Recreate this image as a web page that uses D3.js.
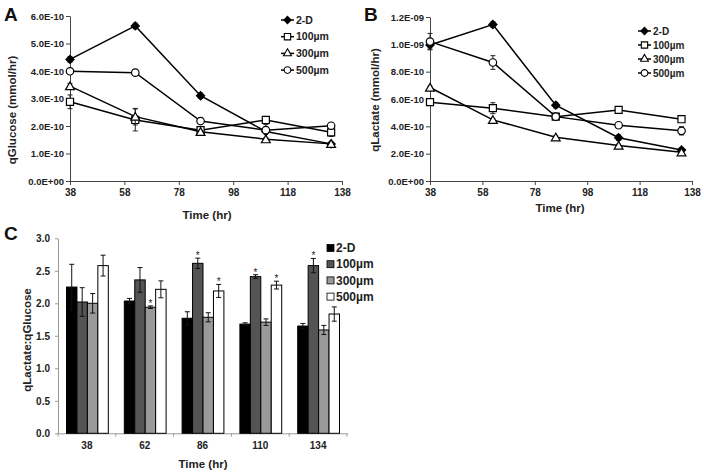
<!DOCTYPE html>
<html>
<head>
<meta charset="utf-8">
<script src="https://cdn.jsdelivr.net/npm/d3@7"></script>
<style>
body { margin: 0; background: #fff; }
svg, svg text { font-family: Arial, "Liberation Sans", sans-serif; }
.tick text { font-weight: bold; fill: #222; }
</style>
</head>
<body>
<svg id="chart" width="704" height="474"></svg>
<script>
// time points (hr) and series names
var hours = [38, 62, 86, 110, 134];
var seriesNames = ["2-D", "100µm", "300µm", "500µm"];
var xTicks = [38, 58, 78, 98, 118, 138];

// panel A: qGlucose (mmol/hr)
var glucose2D  = [4.42e-10, 5.64e-10, 3.10e-10, 1.80e-10, 1.35e-10];
var glucose100 = [2.88e-10, 2.22e-10, 1.85e-10, 2.22e-10, 1.77e-10];
var glucose300 = [3.45e-10, 2.34e-10, 1.79e-10, 1.52e-10, 1.35e-10];
var glucose500 = [3.99e-10, 3.94e-10, 2.18e-10, 1.85e-10, 2.01e-10];
var glucoseErr2D  = [0.1e-10, 0.1e-10, 0.1e-10, 0.25e-10, 0.05e-10];
var glucoseErr100 = [0.25e-10, 0.4e-10, 0.1e-10, 0.1e-10, 0.15e-10];
var glucoseErr300 = [0.1e-10, 0.3e-10, 0.05e-10, 0.05e-10, 0.05e-10];
var glucoseErr500 = [0.05e-10, 0.05e-10, 0.1e-10, 0.1e-10, 0.1e-10];

// panel B: qLactate (mmol/hr)
var lactate2D  = [9.95e-10, 11.45e-10, 5.55e-10, 3.17e-10, 2.27e-10];
var lactate100 = [5.77e-10, 5.33e-10, 4.71e-10, 5.20e-10, 4.52e-10];
var lactate300 = [6.84e-10, 4.47e-10, 3.20e-10, 2.59e-10, 2.10e-10];
var lactate500 = [10.2e-10, 8.67e-10, 4.71e-10, 4.08e-10, 3.67e-10];
var lactateErr2D  = [0.3e-10, 0.2e-10, 0.2e-10, 0.2e-10, 0.1e-10];
var lactateErr100 = [0.2e-10, 0.4e-10, 0.2e-10, 0.1e-10, 0.2e-10];
var lactateErr300 = [0.1e-10, 0.1e-10, 0.1e-10, 0.1e-10, 0.1e-10];
var lactateErr500 = [0.6e-10, 0.5e-10, 0.2e-10, 0.1e-10, 0.3e-10];

// panel C: qLactate:qGlucose ratio
var ratio2D  = [2.25, 2.035, 1.77, 1.68, 1.65];
var ratio100 = [2.02, 2.36, 2.615, 2.41, 2.58];
var ratio300 = [2.00, 1.94, 1.785, 1.71, 1.59];
var ratio500 = [2.58, 2.215, 2.19, 2.28, 1.835];
var ratioErr2D  = [0.35, 0.04, 0.1, 0.02, 0.04];
var ratioErr100 = [0.22, 0.19, 0.08, 0.03, 0.11];
var ratioErr300 = [0.15, 0.02, 0.07, 0.05, 0.07];
var ratioErr500 = [0.16, 0.13, 0.1, 0.06, 0.11];
var ratioStar2D  = [false, false, false, false, false];
var ratioStar100 = [false, false, true, true, true];
var ratioStar300 = [false, true, false, false, false];
var ratioStar500 = [false, false, true, true, false];

var svg = d3.select("#chart");

function sciFormat(d) {
    var s = d.toExponential(1).split("e");
    var exp = parseInt(s[1]);
    var sign = exp < 0 ? "-" : "+";
    var e = Math.abs(exp);
    return s[0] + "E" + sign + (e < 10 ? "0" + e : e);
}

var symbols = [d3.symbolDiamond2, d3.symbolSquare, d3.symbolTriangle, d3.symbolCircle];
var symSizes = [42, 50, 34, 44];
var symFill = ["#000", "#fff", "#fff", "#fff"];

function errPath(cx, y1, y2) {
    return "M" + (cx - 2.5) + "," + y1 + "H" + (cx + 2.5) +
           "M" + cx + "," + y1 + "V" + y2 +
           "M" + (cx - 2.5) + "," + y2 + "H" + (cx + 2.5);
}

function lineChart(opt) {
    var g = svg.append("g");
    var x = d3.scaleLinear().domain([38, 138]).range(opt.xRange);
    var y = d3.scaleLinear().domain(opt.yDomain).range(opt.yRange);

    var yAxis = g.append("g")
        .attr("transform", "translate(" + opt.xRange[0] + ",0)")
        .call(d3.axisLeft(y).tickValues(opt.yTicks).tickFormat(sciFormat).tickSize(4).tickSizeOuter(0));
    yAxis.selectAll("text").style("font-size", "9.5px").attr("x", -6);
    var xAxis = g.append("g")
        .attr("transform", "translate(0," + opt.yRange[0] + ")")
        .call(d3.axisBottom(x).tickValues(xTicks).tickSize(4).tickSizeOuter(0));
    xAxis.selectAll("text").style("font-size", "10px").attr("y", 8);
    g.selectAll(".domain, .tick line").attr("stroke", "#444");

    var line = d3.line()
        .x(function(d, i) { return x(hours[i]); })
        .y(function(d) { return y(d); });

    opt.series.forEach(function(vals, s) {
        var errs = opt.errors[s];
        var sg = g.append("g");
        sg.append("path")
            .attr("d", line(vals))
            .attr("fill", "none")
            .attr("stroke", "#000")
            .attr("stroke-width", 1.5);
        sg.selectAll("path.err")
            .data(vals)
            .enter().append("path")
            .attr("class", "err")
            .attr("stroke", "#222")
            .attr("stroke-width", 1)
            .attr("d", function(d, i) {
                return errPath(x(hours[i]), y(d + errs[i]), y(d - errs[i]));
            });
        sg.selectAll("path.sym")
            .data(vals)
            .enter().append("path")
            .attr("class", "sym")
            .attr("d", d3.symbol().type(symbols[s]).size(symSizes[s]))
            .attr("transform", function(d, i) {
                return "translate(" + x(hours[i]) + "," + (y(d) + (s == 2 ? 1 : 0)) + ")";
            })
            .attr("fill", symFill[s])
            .attr("stroke", "#000")
            .attr("stroke-width", 1.2);
    });

    // legend
    var lg = g.append("g");
    seriesNames.forEach(function(name, s) {
        var ly = opt.legendY + s * opt.legendStep;
        var lx = opt.legendX;
        lg.append("line")
            .attr("x1", lx).attr("x2", lx + 13).attr("y1", ly).attr("y2", ly)
            .attr("stroke", "#000").attr("stroke-width", 1.5);
        lg.append("path")
            .attr("d", d3.symbol().type(symbols[s]).size(symSizes[s] * 0.8))
            .attr("transform", "translate(" + (lx + 6.5) + "," + ly + ")")
            .attr("fill", symFill[s]).attr("stroke", "#000").attr("stroke-width", 1.1);
        lg.append("text")
            .attr("x", lx + 15).attr("y", ly)
            .attr("dy", "0.35em")
            .style("font-size", opt.legendFont)
            .style("font-weight", "bold")
            .attr("fill", "#222")
            .text(name);
    });

    g.append("text")
        .attr("x", opt.xTitle[0]).attr("y", opt.xTitle[1])
        .attr("text-anchor", "middle")
        .style("font-size", "11.5px").style("font-weight", "bold").attr("fill", "#222")
        .text("Time (hr)");
    g.append("text")
        .attr("transform", "translate(" + opt.yTitle[0] + "," + opt.yTitle[1] + ") rotate(-90)")
        .attr("text-anchor", "middle")
        .attr("dy", "0.35em")
        .style("font-size", "11.5px").style("font-weight", "bold").attr("fill", "#222")
        .text(opt.yLabel);
    g.append("text")
        .attr("x", opt.panelPos[0]).attr("y", opt.panelPos[1])
        .style("font-size", "19px").style("font-weight", "bold").attr("fill", "#111")
        .text(opt.panel);
}

lineChart({
    panel: "A", panelPos: [4, 21],
    xRange: [70, 342], yRange: [181, 16],
    yDomain: [0, 6e-10], yTicks: d3.range(0, 7).map(function(i) { return i * 1e-10; }),
    series: [glucose2D, glucose100, glucose300, glucose500],
    errors: [glucoseErr2D, glucoseErr100, glucoseErr300, glucoseErr500],
    legendX: 281, legendY: 20, legendStep: 16.7, legendFont: "10.5px",
    xTitle: [207, 219], yTitle: [12, 110], yLabel: "qGlucose (mmol/hr)"
});

lineChart({
    panel: "B", panelPos: [364, 21],
    xRange: [430, 692], yRange: [181, 17],
    yDomain: [0, 1.2e-9], yTicks: d3.range(0, 7).map(function(i) { return i * 2e-10; }),
    series: [lactate2D, lactate100, lactate300, lactate500],
    errors: [lactateErr2D, lactateErr100, lactateErr300, lactateErr500],
    legendX: 638, legendY: 31, legendStep: 14, legendFont: "10px",
    xTitle: [560, 212], yTitle: [375, 100], yLabel: "qLactate (mmol/hr)"
});

// panel C: grouped bars
(function() {
    var g = svg.append("g");
    var values = [ratio2D, ratio100, ratio300, ratio500];
    var errors = [ratioErr2D, ratioErr100, ratioErr300, ratioErr500];
    var stars = [ratioStar2D, ratioStar100, ratioStar300, ratioStar500];
    var colors = ["#000", "#545454", "#9a9a9a", "#fff"];

    var x0 = d3.scaleBand().domain(hours).range([58, 347]);
    var x1 = d3.scaleBand().domain(d3.range(4)).range([8.5, x0.bandwidth() - 7.5]);
    var y = d3.scaleLinear().domain([0, 3]).range([433.3, 238.3]);

    var yAxis = g.append("g")
        .attr("transform", "translate(58,0)")
        .call(d3.axisLeft(y).tickValues(d3.range(0, 3.01, 0.5)).tickFormat(d3.format(".1f")).tickSize(3).tickSizeOuter(0));
    yAxis.selectAll("text").style("font-size", "10px").attr("x", -8);
    var xAxis = g.append("g")
        .attr("transform", "translate(0,433.3)")
        .call(d3.axisBottom(x0).tickSize(0).tickSizeOuter(0));
    xAxis.selectAll("text").style("font-size", "10px").attr("y", 9);
    g.selectAll(".domain, .tick line").attr("stroke", "#999");
    // category boundary ticks
    g.selectAll("line.sep")
        .data(d3.range(hours.length + 1))
        .enter().append("line")
        .attr("x1", function(i) { return 58 + i * x0.step(); })
        .attr("x2", function(i) { return 58 + i * x0.step(); })
        .attr("y1", 433.3).attr("y2", 436.5)
        .attr("stroke", "#999");

    values.forEach(function(vals, s) {
        var errs = errors[s], st = stars[s];
        var pts = vals.map(function(v, i) {
            return { hr: hours[i], v: v, e: errs[i], star: st[i] };
        });
        var sg = g.append("g");
        sg.selectAll("rect")
            .data(pts)
            .enter().append("rect")
            .attr("x", function(d) { return x0(d.hr) + x1(s); })
            .attr("y", function(d) { return y(d.v); })
            .attr("width", x1.bandwidth())
            .attr("height", function(d) { return y(0) - y(d.v); })
            .attr("fill", colors[s])
            .attr("stroke", "#000")
            .attr("stroke-width", 1);
        sg.selectAll("path")
            .data(pts)
            .enter().append("path")
            .attr("stroke", "#111")
            .attr("stroke-width", 1)
            .attr("fill", "none")
            .attr("d", function(d) {
                var cx = x0(d.hr) + x1(s) + x1.bandwidth() / 2;
                return errPath(cx, y(d.v + d.e), y(d.v - d.e));
            });
        sg.selectAll("text")
            .data(pts.filter(function(d) { return d.star; }))
            .enter().append("text")
            .attr("x", function(d) { return x0(d.hr) + x1(s) + x1.bandwidth() / 2; })
            .attr("y", function(d) { return y(d.v + d.e) + 1; })
            .attr("text-anchor", "middle")
            .style("font-size", "10px")
            .attr("fill", "#222")
            .text("*");
    });

    // legend
    seriesNames.forEach(function(name, s) {
        var ly = 248 + s * 16.2;
        g.append("rect")
            .attr("x", 327).attr("y", ly - 3.5).attr("width", 7).attr("height", 7)
            .attr("fill", colors[s]).attr("stroke", "#000").attr("stroke-width", 0.8);
        g.append("text")
            .attr("x", 336).attr("y", ly).attr("dy", "0.35em")
            .style("font-size", "12px").style("font-weight", "bold").attr("fill", "#222")
            .text(name);
    });

    g.append("text")
        .attr("x", 203).attr("y", 468)
        .attr("text-anchor", "middle")
        .style("font-size", "11.5px").style("font-weight", "bold").attr("fill", "#222")
        .text("Time (hr)");
    g.append("text")
        .attr("transform", "translate(27,340) rotate(-90)")
        .attr("text-anchor", "middle").attr("dy", "0.35em")
        .style("font-size", "11.5px").style("font-weight", "bold").attr("fill", "#222")
        .text("qLactate:qGlucose");
    g.append("text")
        .attr("x", 4).attr("y", 240)
        .style("font-size", "19px").style("font-weight", "bold").attr("fill", "#111")
        .text("C");
})();
</script>
</body>
</html>
